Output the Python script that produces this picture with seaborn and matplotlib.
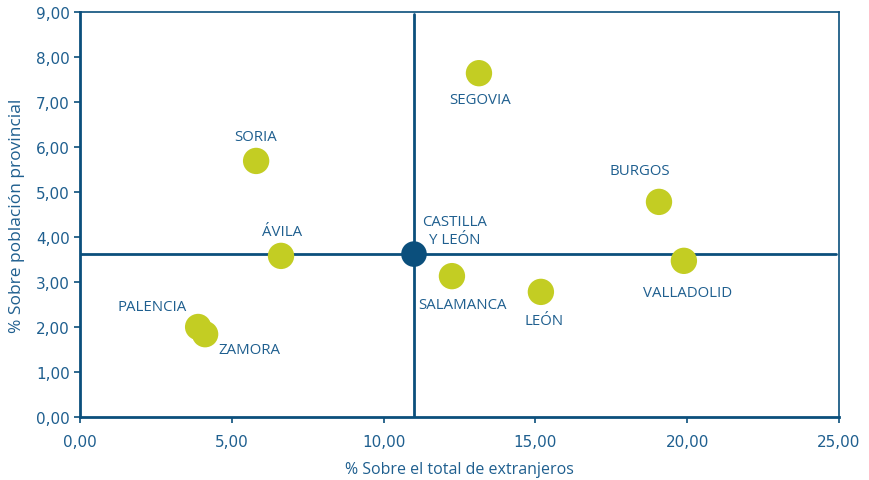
import matplotlib
matplotlib.use("Agg")
import matplotlib.pyplot as plt
import seaborn as sns
import pandas as pd
from matplotlib.ticker import FuncFormatter

provinces = ["SORIA", "SEGOVIA", "BURGOS", "ÁVILA", "SALAMANCA", "LEÓN",
             "VALLADOLID", "PALENCIA", "ZAMORA"]
pct_extranjeros = [5.80, 13.14, 19.07, 6.62, 12.25, 15.18, 19.89, 3.89, 4.12]
pct_poblacion = [5.69, 7.64, 4.78, 3.58, 3.13, 2.78, 3.47, 2.00, 1.84]

region_label = "CASTILLA\nY LEÓN"
region_x = 11.0
region_y = 3.62

x_label = "% Sobre el total de extranjeros"
y_label = "% Sobre población provincial"

df = pd.DataFrame({"prov": provinces, "x": pct_extranjeros, "y": pct_poblacion})

sns.set_theme(style="white")
plt.rcParams["font.family"] = ["Open Sans", "DejaVu Sans"]

DARK = "#0b4f7c"
TEXT = "#1f5f8f"
GREEN = "#c3cd23"

fig = plt.figure(figsize=(8.69, 4.81), dpi=100)
ax = fig.add_axes([0.0921, 0.131, 0.8734, 0.842])

# crosshair lines
ax.axvline(region_x, ymin=0, ymax=0.995, color=DARK, lw=2, zorder=1)
ax.axhline(region_y, xmin=0, xmax=0.996, color=DARK, lw=2, zorder=1)

sns.scatterplot(data=df, x="x", y="y", s=360, color=GREEN, edgecolor="none",
                ax=ax, zorder=3, legend=False)
ax.scatter([region_x], [region_y], s=340, color=DARK, edgecolor="none", zorder=4)

# label offsets in pixels (dx, dy)
offsets = {
    "SORIA": (0, 24),
    "SEGOVIA": (1, -26),
    "BURGOS": (-19, 31),
    "ÁVILA": (1, 24),
    "SALAMANCA": (11, -28),
    "LEÓN": (3, -29),
    "VALLADOLID": (4, -32),
    "PALENCIA": (-46, 20),
    "ZAMORA": (44, -15),
}
for p, xv, yv in zip(provinces, pct_extranjeros, pct_poblacion):
    dx, dy = offsets[p]
    ax.annotate(p, (xv, yv), xytext=(dx * 0.72, dy * 0.72), textcoords="offset points",
                ha="center", va="center", fontsize=10.8, color=TEXT)
ax.annotate(region_label, (region_x, region_y), xytext=(29, 17), textcoords="offset points",
            ha="center", va="center", multialignment="center", fontsize=10.8,
            color=TEXT, linespacing=1.2)

ax.set_xlim(0, 25)
ax.set_ylim(0, 9)
ax.set_xticks([0, 5, 10, 15, 20, 25])
ax.set_yticks(range(0, 10))
fmt = FuncFormatter(lambda v, pos: f"{v:.2f}".replace(".", ","))
ax.xaxis.set_major_formatter(fmt)
ax.yaxis.set_major_formatter(fmt)

ax.tick_params(axis="both", which="major", direction="out", length=4, width=1.2,
               color=DARK, labelcolor=TEXT, labelsize=11, bottom=True, left=True)
ax.tick_params(axis="x", pad=8)
for lab in ax.get_xticklabels() + ax.get_yticklabels():
    lab.set_family(["DejaVu Sans"])

ax.set_xlabel(x_label, fontsize=11.5, color=TEXT, labelpad=9)
ax.set_ylabel(y_label, fontsize=12.5, color=TEXT, labelpad=8)

for side in ["left", "bottom"]:
    ax.spines[side].set_color(DARK)
    ax.spines[side].set_linewidth(2)
for side in ["top", "right"]:
    ax.spines[side].set_color(DARK)
    ax.spines[side].set_linewidth(1.2)

fig.savefig("out.png", dpi=100)
